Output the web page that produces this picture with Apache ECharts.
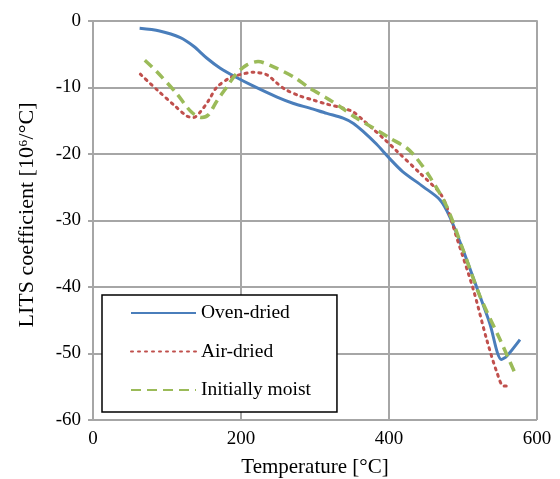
<!DOCTYPE html>
<html>
<head>
<meta charset="utf-8">
<style>
  html, body { margin: 0; padding: 0; background: #fff; }
  #chart { width: 560px; height: 479px; }
</style>
<script src="https://cdn.jsdelivr.net/npm/echarts@6/dist/echarts.min.js"></script>
</head>
<body>
<div id="chart"></div>
<script>
// [temperature °C, LITS coefficient]
const ovenDried = [
  [63, -1.1], [90, -1.5], [118, -2.5], [136, -3.8], [154, -5.6], [172, -7.1],
  [194, -8.5], [217, -9.8], [248, -11.4], [271, -12.4], [293, -13.1],
  [316, -13.9], [338, -14.6], [352, -15.4], [365, -16.6], [383, -18.5],
  [401, -20.7], [418, -22.6], [446, -24.9], [469, -26.9], [482, -29.4],
  [500, -34.4], [518, -39.9], [536, -45.4], [552, -50.9], [559, -50.4],
  [577, -47.9]
];
const airDried = [
  [64, -8.0], [87, -10.4], [111, -12.8], [127, -14.3], [136, -14.5],
  [144, -13.8], [156, -12.0], [167, -10.0], [184, -8.6], [194, -8.2],
  [217, -7.7], [235, -8.1], [248, -9.3], [260, -10.3], [280, -11.3],
  [298, -11.9], [316, -12.5], [338, -13.1], [352, -13.7], [365, -14.9],
  [379, -16.3], [395, -17.9], [410, -19.5], [442, -22.9],
  [469, -25.9], [478, -27.9], [491, -32.4], [514, -40.4], [532, -47.9],
  [546, -52.9], [555, -54.9], [565, -54.9]
];
const initiallyMoist = [
  [70, -5.9], [86, -7.6], [113, -10.9], [133, -13.7], [147, -14.5],
  [156, -14.1], [167, -12.1], [181, -9.9], [194, -7.9], [208, -6.6],
  [223, -6.1], [244, -6.9], [271, -8.4], [293, -10.1], [316, -11.6],
  [334, -12.9], [356, -14.6], [379, -16.1], [401, -17.6], [424, -19.1],
  [437, -20.6], [455, -23.4], [478, -27.9], [500, -34.4], [523, -41.4],
  [550, -47.9], [572, -53.4]
];
const seriesNames = ["Oven-dried", "Air-dried", "Initially moist"];

const chart = echarts.init(document.getElementById("chart"));
const font = "Liberation Serif";
const gridColor = "#a6a6a6";

chart.setOption({
  animation: false,
  textStyle: { fontFamily: font },
  grid: { left: 93, right: 23, top: 21, bottom: 59, outerBoundsMode: "none" },
  legend: {
    data: seriesNames,
    orient: "vertical",
    left: 102,
    top: 295,
    itemWidth: 65,
    itemHeight: 14,
    itemGap: 18.5,
    itemTextGap: 6,
    padding: [8, 26, 12, 28],
    borderColor: "#000",
    borderWidth: 1.5,
    backgroundColor: "#fff",
    itemStyle: { opacity: 0 },
    textStyle: { fontFamily: font, fontSize: 19.5, lineHeight: 20, color: "#000" }
  },
  xAxis: {
    type: "value",
    min: 0,
    max: 600,
    interval: 200,
    name: "Temperature [°C]",
    nameLocation: "middle",
    nameGap: 37,
    nameTextStyle: { fontFamily: font, fontSize: 21, color: "#000" },
    axisLine: { lineStyle: { color: gridColor, width: 2 } },
    axisTick: { show: true, length: 5, lineStyle: { color: gridColor, width: 2 } },
    axisLabel: { fontFamily: font, fontSize: 19, color: "#000", margin: 10 },
    splitLine: { lineStyle: { color: gridColor, width: 2 } }
  },
  yAxis: {
    type: "value",
    min: -60,
    max: 0,
    interval: 10,
    name: "LITS coefficient [10⁶/°C]",
    nameLocation: "middle",
    nameGap: 55,
    nameTextStyle: { fontFamily: font, fontSize: 22, color: "#000", padding: [0, 0, 0, 11] },
    axisLine: { show: true, lineStyle: { color: gridColor, width: 2 } },
    axisTick: { show: true, length: 5, lineStyle: { color: gridColor, width: 2 } },
    axisLabel: { fontFamily: font, fontSize: 19, color: "#000", margin: 12 },
    splitLine: { lineStyle: { color: gridColor, width: 2 } }
  },
  series: [
    {
      name: seriesNames[0],
      type: "line",
      data: ovenDried,
      smooth: 0.3,
      symbol: "none",
      lineStyle: { color: "#4a7ebb", width: 3 },
      itemStyle: { color: "#4a7ebb" }
    },
    {
      name: seriesNames[1],
      type: "line",
      data: airDried,
      smooth: 0.3,
      symbol: "none",
      lineStyle: { color: "#c0504d", width: 3, type: [2, 5], cap: "round" },
      itemStyle: { color: "#c0504d" }
    },
    {
      name: seriesNames[2],
      type: "line",
      data: initiallyMoist,
      smooth: 0.3,
      symbol: "none",
      lineStyle: { color: "#9bbb59", width: 3.5, type: [10, 6] },
      itemStyle: { color: "#9bbb59" }
    }
  ]
});
</script>
</body>
</html>
